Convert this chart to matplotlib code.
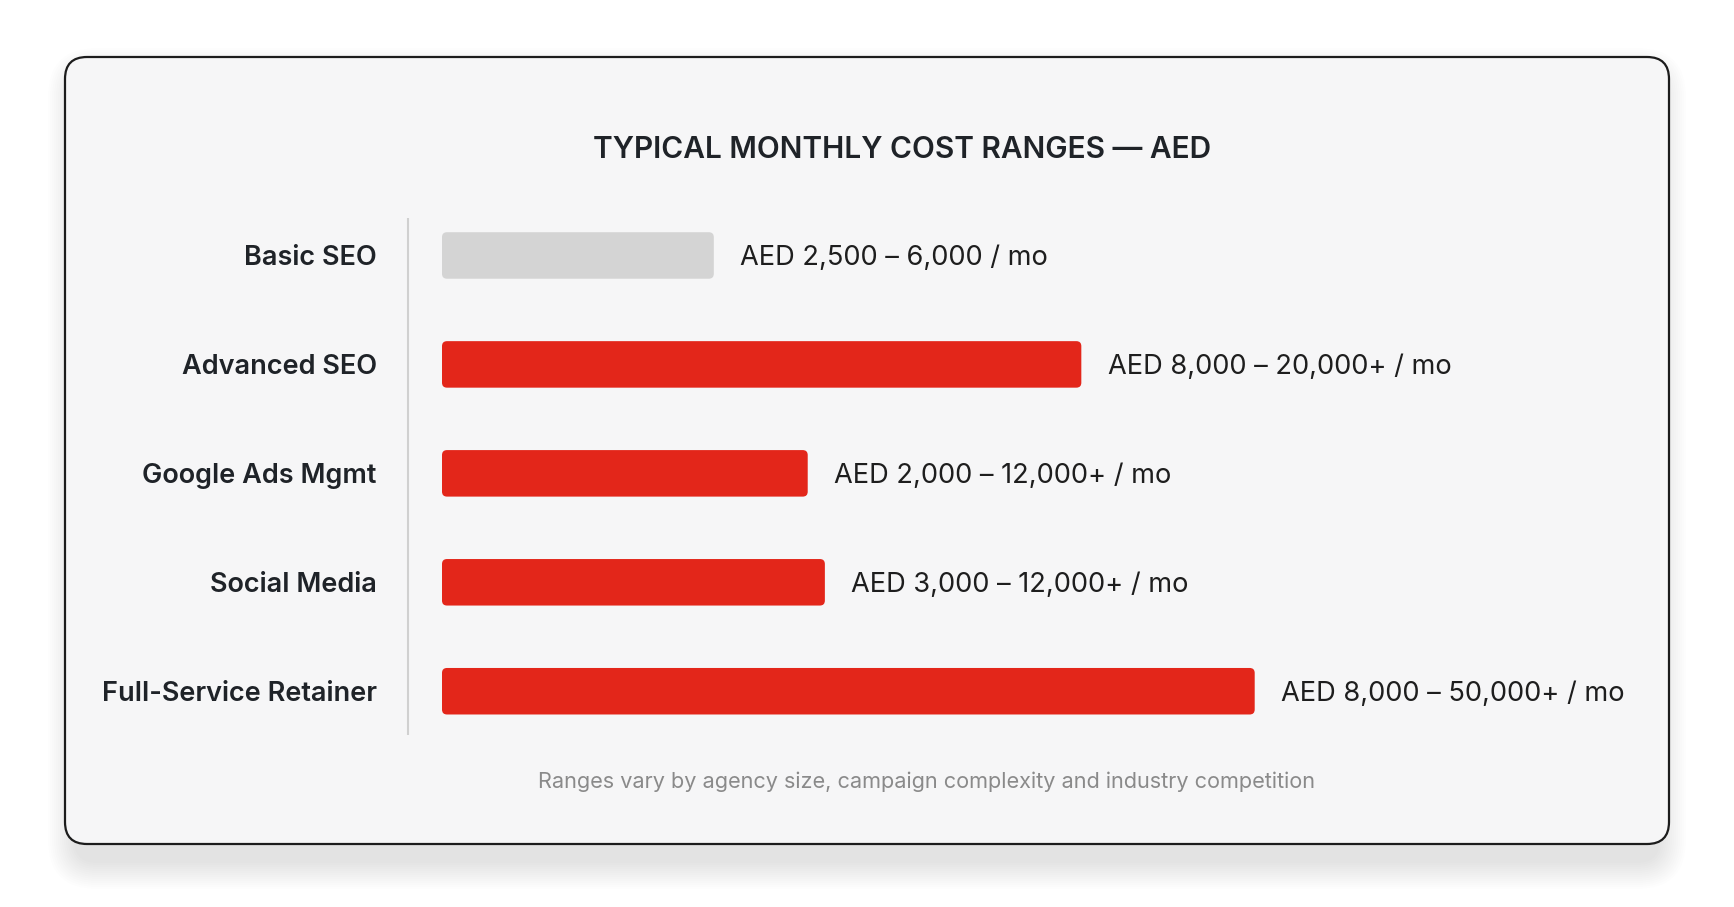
import matplotlib
matplotlib.use("Agg")
import matplotlib.pyplot as plt
from matplotlib.patches import FancyBboxPatch

plt.rcParams['font.family'] = ['Inter', 'DejaVu Sans']

# services, bar length (share of track, %), and range text
services = ['Basic SEO', 'Advanced SEO', 'Google Ads Mgmt', 'Social Media', 'Full-Service Retainer']
bar_share = [30.1, 70.8, 40.5, 42.4, 90.0]
range_labels = ['AED 2,500 – 6,000 / mo', 'AED 8,000 – 20,000+ / mo', 'AED 2,000 – 12,000+ / mo',
                'AED 3,000 – 12,000+ / mo', 'AED 8,000 – 50,000+ / mo']
bar_colors = ['#d4d4d4', '#e3261a', '#e3261a', '#e3261a', '#e3261a']

title = 'TYPICAL MONTHLY COST RANGES — AED'
note = 'Ranges vary by agency size, campaign complexity and industry competition'

W, H = 1734, 907
fig = plt.figure(figsize=(W / 100, H / 100), dpi=100)
fig.patch.set_facecolor('white')

# background axes in pixel units for the card
bg = fig.add_axes([0, 0, 1, 1])
bg.set_xlim(0, W)
bg.set_ylim(H, 0)
bg.axis('off')

cx0, cy0, cx1, cy1 = 65, 57, 1669, 844
# soft shadow, mostly below the card
for k in range(14):
    p = 1 + k * 2.0
    bg.add_patch(FancyBboxPatch((cx0 - p + 10, cy0 + 18 - p), (cx1 - cx0) + 2 * p - 20, (cy1 - cy0) + 2 * p,
                                boxstyle='round,pad=0,rounding_size=%f' % (22 + p),
                                fc='black', ec='none', alpha=0.007, zorder=1))
bg.add_patch(FancyBboxPatch((cx0, cy0), cx1 - cx0, cy1 - cy0,
                            boxstyle='round,pad=0,rounding_size=22',
                            fc='#f6f6f7', ec='#1c1c1c', lw=1.6, zorder=2))

bg.text(902, 150, title, ha='center', va='center', fontsize=21.5, fontweight='semibold',
        color='#1f2328', zorder=3)
bg.text(927, 782, note, ha='center', va='center', fontsize=15.6, color='#8a8a8a', zorder=3)
bg.plot([408, 408], [218, 735], color='#d0d0d0', lw=1.5, zorder=3, solid_capstyle='butt')

# bar axes
left, right = 442, 1345
top, bottom = 201, 745.7
ax = fig.add_axes([left / W, 1 - bottom / H, (right - left) / W, (bottom - top) / H])
ax.set_xlim(0, 100)
ax.set_ylim(len(services) - 0.5, -0.5)
ax.patch.set_alpha(0)
for s in ax.spines.values():
    s.set_visible(False)
ax.set_xticks([])

bh = 0.427
bars = ax.barh(range(len(services)), bar_share, height=bh, color=bar_colors)
# swap plain rectangles for rounded ones
xpp = 100 / (right - left)
ypp = len(services) / (bottom - top)
for b, c in zip(bars, bar_colors):
    b.set_visible(False)
    ax.add_patch(FancyBboxPatch((b.get_x(), b.get_y()), b.get_width(), b.get_height(),
                                boxstyle='round,pad=0,rounding_size=%f' % (5 * xpp),
                                mutation_aspect=ypp / xpp, fc=c, ec='none'))

ax.set_yticks(range(len(services)))
ax.set_yticklabels(services, fontsize=19.5, fontweight='semibold', color='#1f2328')
ax.tick_params(axis='y', length=0, pad=47)

for i, (v, lab) in enumerate(zip(bar_share, range_labels)):
    ax.annotate(lab, (v, i), xytext=(19, 0), textcoords='offset points',
                ha='left', va='center_baseline', fontsize=19.6, color='#1e1e1e',
                annotation_clip=False)

fig.savefig('out.png', dpi=100)
